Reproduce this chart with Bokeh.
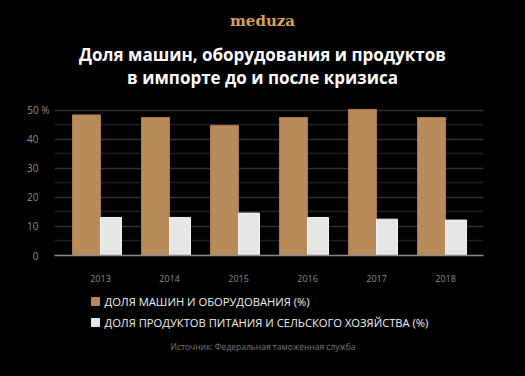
from bokeh.plotting import figure
from bokeh.layouts import column
from bokeh.models import FixedTicker, ColumnDataSource
from bokeh.transform import dodge
from bokeh.core.properties import value
from bokeh.embed import file_html
from bokeh.resources import INLINE

years = ["2013", "2014", "2015", "2016", "2017", "2018"]
machines = [48.4, 47.5, 44.8, 47.5, 50.3, 47.5]
food = [13.1, 13.1, 14.6, 13.1, 12.5, 12.2]
y_ticks = [0, 10, 20, 30, 40, 50]
y_minor = [5, 15, 25, 35, 45]
series_names = ["ДОЛЯ МАШИН И ОБОРУДОВАНИЯ (%)",
                "ДОЛЯ ПРОДУКТОВ ПИТАНИЯ И СЕЛЬСКОГО ХОЗЯЙСТВА (%)"]
logo = "meduza"
title_lines = ["Доля машин, оборудования и продуктов", "в импорте до и после кризиса"]
source_text = "Источник: Федеральная таможенная служба"

BROWN = "#b98b5a"
LIGHT = "#e6e6e6"
series_colors = [BROWN, LIGHT]
FONT = "Open Sans"
W = 525
FL, FR = 54, 42  # frame borders shared by all stacked figures


def blank(h, top, bottom):
    # x data units == canvas pixels (frame spans FL..W-FR)
    f = figure(width=W, height=h, output_backend="svg", toolbar_location=None,
               x_range=(FL, W - FR), y_range=(bottom, top),
               x_axis_location=None, y_axis_location=None,
               min_border_left=FL, min_border_right=FR,
               min_border_top=0, min_border_bottom=0)
    f.grid.visible = False
    f.background_fill_color = "black"
    f.border_fill_color = "black"
    f.outline_line_color = None
    return f


# ---------- header (canvas y 0..95) ----------
hdr = blank(95, 0, 95)
hdr.text(x=[262], y=[20], text=[logo], text_color="#d6a25c",
         text_font=value("DejaVu Serif"), text_font_style="bold",
         text_font_size="15px", text_align="center", text_baseline="middle")
hdr.text(x=[262, 262], y=[53.5, 76.5], text=title_lines, text_color="white",
         text_font=value(FONT), text_font_style="bold", text_font_size="17px",
         text_align="center", text_baseline="alphabetic")

# ---------- chart (canvas y 95..285) ----------
idx = list(range(len(years)))
src = ColumnDataSource(dict(x=idx, machines=machines, food=food))

p = figure(width=W, height=190, output_backend="svg", toolbar_location=None,
           x_range=(-0.667, 5.55), y_range=(0, 51.3),
           min_border_left=FL, min_border_right=FR, min_border_top=11,
           min_border_bottom=30)
p.background_fill_color = "black"
p.border_fill_color = "black"
p.outline_line_color = None

p.vbar(x=dodge("x", -0.203, range=p.x_range), top="machines", width=0.406,
       source=src, fill_color=BROWN, line_color="#a87c4e", line_width=1)
p.vbar(x=dodge("x", 0.152, range=p.x_range), top="food", width=0.304,
       source=src, fill_color=LIGHT, line_color="#f2f2f2", line_width=1)

p.xgrid.visible = False
p.yaxis.ticker = FixedTicker(ticks=y_ticks, minor_ticks=y_minor)
p.ygrid.grid_line_color = "#303030"
p.ygrid.grid_line_width = 1.5
p.ygrid.minor_grid_line_color = "#1f1f1f"
p.ygrid.minor_grid_line_width = 1.5

pad = "\u2003\u200a"
p.yaxis.major_label_overrides = {t: (f"{t} %" if t == y_ticks[-1] else f"{t}{pad}")
                                 for t in y_ticks}
p.yaxis.axis_line_color = None
p.yaxis.major_tick_line_color = None
p.yaxis.minor_tick_line_color = None
p.yaxis.major_label_text_color = "#8c8c8c"
p.yaxis.major_label_text_font = FONT
p.yaxis.major_label_text_font_size = "10px"
p.yaxis.major_label_standoff = -1

p.xaxis.ticker = FixedTicker(ticks=idx)
p.xaxis.major_label_overrides = {i: y for i, y in enumerate(years)}
p.xaxis.axis_line_color = "#8a8a8a"
p.xaxis.axis_line_width = 1.5
p.xaxis.major_tick_line_color = None
p.xaxis.minor_tick_line_color = None
p.xaxis.major_label_text_color = "#8c8c8c"
p.xaxis.major_label_text_font = FONT
p.xaxis.major_label_text_font_size = "9px"
p.xaxis.major_label_standoff = 13

# ---------- legend + source (canvas y 285..376) ----------
leg = blank(91, 285, 376)
leg.rect(x=[95, 95], y=[301, 322], width=8, height=8, fill_color=series_colors,
         line_color=series_colors)
leg.text(x=[104, 104], y=[301, 322], text=series_names, text_color="#f0f0f0",
         text_font=value(FONT), text_font_size="11.2px", text_align="left",
         text_baseline="middle")
leg.text(x=[262.5], y=[345.5], text=[source_text], text_color="#777777",
         text_font=value(FONT), text_font_size="8.5px", text_align="center",
         text_baseline="middle")

layout = column(hdr, p, leg, spacing=0)
layout.styles = {"background-color": "black"}
open("out.html", "w").write(file_html(layout, INLINE))
